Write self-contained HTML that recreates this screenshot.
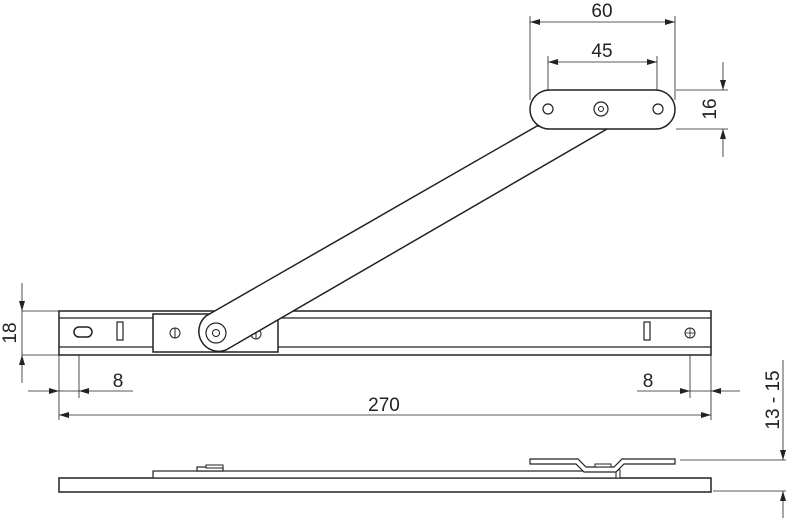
<!DOCTYPE html>
<html><head><style>body{margin:0;background:#fff}svg{display:block}</style></head><body>
<svg width="793" height="522" viewBox="0 0 793 522" xmlns="http://www.w3.org/2000/svg" font-family="Liberation Sans, sans-serif">
<defs><marker id="a" viewBox="0 0 10 6" refX="10" refY="3" markerWidth="10" markerHeight="6" orient="auto-start-reverse" markerUnits="userSpaceOnUse"><path d="M0,0L10,3L0,6z" fill="#222"/></marker></defs>
<g stroke="#222" stroke-width="0.8" fill="none">
<line x1="22" y1="311" x2="59" y2="311"/><line x1="22" y1="355" x2="59" y2="355"/>
<line x1="59" y1="355" x2="59" y2="420"/><line x1="79" y1="338" x2="79" y2="398"/>
<line x1="711" y1="355" x2="711" y2="420"/><line x1="690" y1="338" x2="690" y2="398"/>
<line x1="530" y1="16" x2="530" y2="100"/><line x1="675" y1="16" x2="675" y2="100"/>
<line x1="548" y1="56" x2="548" y2="105"/><line x1="657" y1="56" x2="657" y2="105"/>
<line x1="676" y1="90" x2="728" y2="90"/><line x1="676" y1="129" x2="728" y2="129"/>
<line x1="680" y1="460" x2="786" y2="460"/><line x1="713" y1="491" x2="786" y2="491"/>
<line x1="22" y1="283" x2="22" y2="311" marker-end="url(#a)"/><line x1="22" y1="311" x2="22" y2="355"/><line x1="22" y1="383" x2="22" y2="355" marker-end="url(#a)"/>
<line x1="28" y1="391" x2="59" y2="391" marker-end="url(#a)"/><line x1="59" y1="391" x2="79" y2="391"/><line x1="133" y1="391" x2="79" y2="391" marker-end="url(#a)"/>
<line x1="637" y1="391" x2="690" y2="391" marker-end="url(#a)"/><line x1="690" y1="391" x2="711" y2="391"/><line x1="740" y1="391" x2="711" y2="391" marker-end="url(#a)"/>
<line x1="59" y1="415" x2="711" y2="415" marker-start="url(#a)" marker-end="url(#a)"/>
<line x1="530" y1="22" x2="675" y2="22" marker-start="url(#a)" marker-end="url(#a)"/>
<line x1="548" y1="62" x2="657" y2="62" marker-start="url(#a)" marker-end="url(#a)"/>
<line x1="723" y1="62" x2="723" y2="90" marker-end="url(#a)"/><line x1="723" y1="157" x2="723" y2="129" marker-end="url(#a)"/>
<line x1="783" y1="360" x2="783" y2="460" marker-end="url(#a)"/><line x1="783" y1="518" x2="783" y2="491" marker-end="url(#a)"/>
</g>
<g fill="#222" font-size="19">
<text x="118" y="387" text-anchor="middle">8</text>
<text x="648" y="387" text-anchor="middle">8</text>
<text x="384" y="411" text-anchor="middle">270</text>
<text x="602" y="17" text-anchor="middle">60</text>
<text x="602" y="57" text-anchor="middle">45</text>
<text transform="translate(16,333) rotate(-90)" text-anchor="middle">18</text>
<text transform="translate(716,109) rotate(-90)" text-anchor="middle">16</text>
<text transform="translate(779,400) rotate(-90)" text-anchor="middle">13 - 15</text>
</g>
<g stroke="#222" stroke-width="1.5" fill="#fff">
<rect x="59" y="311" width="652" height="44"/>
<line x1="59" y1="318" x2="711" y2="318" stroke-width="1.2"/>
<line x1="59" y1="347" x2="711" y2="347" stroke-width="1.2"/>
<rect x="153" y="314" width="125" height="38"/>
<rect x="74" y="327" width="18" height="10" rx="5"/>
<rect x="117" y="322" width="6" height="18" stroke-width="1.2"/>
<rect x="644" y="322" width="6" height="18" stroke-width="1.2"/>
<circle cx="690" cy="333" r="5" stroke-width="1"/><line x1="685" y1="333" x2="695" y2="333" stroke-width="0.8"/><line x1="690" y1="328" x2="690" y2="338" stroke-width="0.8"/>
<circle cx="175" cy="333" r="5" stroke-width="1"/><line x1="175" y1="328" x2="175" y2="338" stroke-width="1"/>
<circle cx="256" cy="334" r="5" stroke-width="1"/><line x1="256" y1="329" x2="256" y2="339" stroke-width="1"/>
<path d="M206,316 L537,126 L607,129 L226,350 A20,20 0 0 1 206,316Z"/>
<circle cx="216" cy="333" r="10" stroke-width="1.2"/><circle cx="216" cy="333" r="3.5" stroke-width="1"/>
<rect x="530" y="90" width="145" height="39" rx="19.5"/>
<circle cx="548" cy="109" r="5" stroke-width="1.2"/><circle cx="658" cy="109" r="5" stroke-width="1.2"/>
<circle cx="601" cy="109" r="7" stroke-width="1.2"/><circle cx="601" cy="109" r="2.5" stroke-width="1"/>
<rect x="59" y="478" width="652" height="14"/>
<line x1="140" y1="478" x2="153" y2="478" stroke-width="1"/>
<rect x="153" y="471" width="465" height="7" stroke-width="1.2"/>
<rect x="197" y="467" width="26" height="4" stroke-width="1.2"/>
<rect x="206" y="465" width="17" height="3" stroke-width="1"/>
<rect x="616" y="470" width="4" height="8" stroke-width="1"/>
<path d="M530,459 L578,459 L586,467 L614,467 L622,459 L675,459 L675,464 L624,464 L616,472 L584,472 L576,464 L530,464Z" stroke-width="1.2"/>
<rect x="595" y="464" width="16" height="3" stroke-width="1"/>
</g>
</svg>
</body></html>
